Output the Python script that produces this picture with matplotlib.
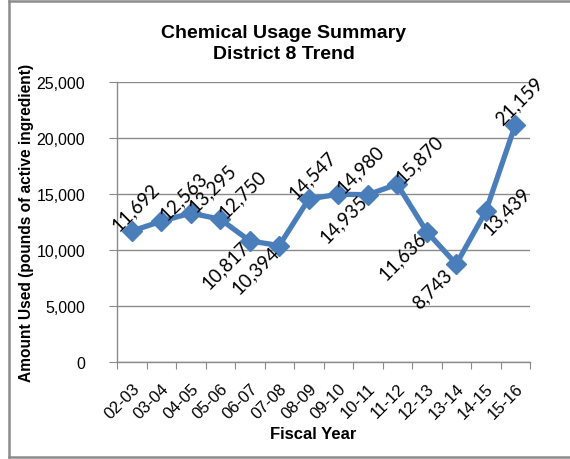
import matplotlib
matplotlib.use("Agg")
import matplotlib.pyplot as plt
from matplotlib.lines import Line2D
from matplotlib.ticker import FuncFormatter, MultipleLocator

# Fiscal years and pounds of active ingredient used
fiscal_years = ["02-03", "03-04", "04-05", "05-06", "06-07", "07-08", "08-09",
                "09-10", "10-11", "11-12", "12-13", "13-14", "14-15", "15-16"]
usage_lbs = [11692, 12563, 13295, 12750, 10817, 10394, 14547,
             14980, 14935, 15870, 11636, 8743, 13439, 21159]

# where each value label sits relative to its point
label_place = ["above", "upper right", "upper right", "upper right", "lower left",
               "lower left", "above", "upper right", "lower left", "upper right",
               "lower left", "lower left", "right", "above"]
place_offsets = {  # label centre offset from the point, in pixels
    "above": (4, 25),
    "upper right": (22, 26),
    "lower left": (-24, -24),
    "right": (21, 1),
}

W, H = 570, 460
fig = plt.figure(figsize=(W / 100, H / 100), dpi=100)
fig.patch.set_facecolor("white")

# chart frame
frame_col = "#8c8c8c"
fig.add_artist(Line2D([9 / W, 9 / W], [2 / H, 1 - 1.5 / H], transform=fig.transFigure,
                      color=frame_col, lw=1.8))
fig.add_artist(Line2D([9 / W, 1], [1 - 1.5 / H, 1 - 1.5 / H], transform=fig.transFigure,
                      color=frame_col, lw=1.8))
fig.add_artist(Line2D([9 / W, 1], [2 / H, 2 / H], transform=fig.transFigure,
                      color=frame_col, lw=1.8))

left, right, bottom, top = 117, 530, 363, 83
ax = fig.add_axes([left / W, 1 - bottom / H, (right - left) / W, (bottom - top) / H])

n = len(fiscal_years)
xs = list(range(n))
line_col = "#4A7EBB"
ax.plot(xs, usage_lbs, color=line_col, lw=3.8, marker="D", markersize=10,
        markerfacecolor=line_col, markeredgecolor=line_col, solid_joinstyle="miter", zorder=3)

ax.set_xlim(-0.5, n - 0.5)
ax.set_ylim(0, 25000)
ax.yaxis.set_major_locator(MultipleLocator(5000))
ax.yaxis.set_major_formatter(FuncFormatter(lambda v, p: f"{int(v):,}"))
ax.grid(axis="y", color="#8a8a8a", lw=1.0)
ax.set_axisbelow(True)

for s in ("top", "right"):
    ax.spines[s].set_visible(False)
for s in ("left", "bottom"):
    ax.spines[s].set_color("#8a8a8a")
    ax.spines[s].set_linewidth(1.0)

# category ticks at boundaries, labels at centres
ax.set_xticks([i - 0.5 for i in range(n + 1)])
ax.set_xticklabels([])
ax.set_xticks(xs, minor=True)
ax.set_xticklabels(fiscal_years, minor=True, rotation=45, ha="right", va="top",
                   rotation_mode="anchor", fontsize=12, family="Liberation Sans")
ax.tick_params(axis="x", which="major", length=5, color="#8a8a8a", direction="out")
ax.tick_params(axis="x", which="minor", length=0, pad=13)
ax.tick_params(axis="y", length=6, color="#8a8a8a", direction="out", pad=17,
               labelsize=11.5)
for t in ax.get_yticklabels():
    t.set_family("Liberation Sans")

for xv, yv, pl in zip(xs, usage_lbs, label_place):
    dx, dy = place_offsets[pl]
    ax.annotate(f"{yv:,}", (xv, yv), xytext=(dx, dy), textcoords="offset pixels",
                ha="center", va="center", rotation=45, rotation_mode="anchor",
                fontsize=13.5, family="Lato", color="black", zorder=4)

fig.text(284 / W, 1 - 44 / H, "Chemical Usage Summary\nDistrict 8 Trend", ha="center",
         va="center", fontsize=14, fontweight="bold", family="Liberation Sans",
         linespacing=1.3)
fig.text(313 / W, 1 - 435 / H, "Fiscal Year", ha="center", va="center", fontsize=12,
         fontweight="bold", family="Liberation Sans")
fig.text(27 / W, 1 - 223 / H, "Amount Used (pounds of active ingredient)", ha="center",
         va="center", rotation=90, fontsize=11.2, fontweight="bold",
         family="Liberation Sans")

fig.savefig("out.png", dpi=100, facecolor="white")
